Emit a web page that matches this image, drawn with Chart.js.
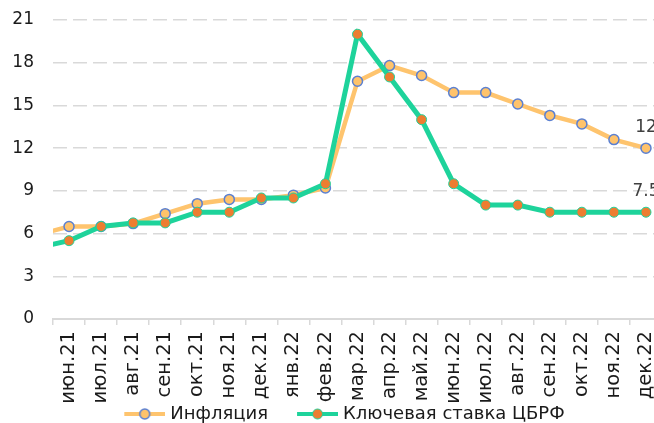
<!DOCTYPE html>
<html><head><meta charset="utf-8">
<script src="https://cdn.jsdelivr.net/npm/chart.js@4.4.0/dist/chart.umd.min.js"></script>
<style>
html,body{margin:0;padding:0;background:#fff;overflow:hidden;}
#wrap{width:654px;height:423px;overflow:hidden;position:relative;}
canvas{display:block;}
</style></head><body>
<div id="wrap"><canvas id="c" width="684" height="423"></canvas></div>
<script>
// May 2021 is the clipped lead-in point at the left edge
const categories = ['май.21','июн.21','июл.21','авг.21','сен.21','окт.21','ноя.21','дек.21','янв.22','фев.22','мар.22','апр.22','май.22','июн.22','июл.22','авг.22','сен.22','окт.22','ноя.22','дек.22'];
const inflation = [5.9, 6.5, 6.5, 6.7, 7.4, 8.1, 8.4, 8.4, 8.7, 9.2, 16.7, 17.8, 17.1, 15.9, 15.9, 15.1, 14.3, 13.7, 12.6, 12.0];
const keyRate   = [5.0, 5.5, 6.5, 6.75, 6.75, 7.5, 7.5, 8.5, 8.5, 9.5, 20, 17, 14, 9.5, 8, 8, 7.5, 7.5, 7.5, 7.5];
const yTicks = [0, 3, 6, 9, 12, 15, 18, 21];
const seriesNames = ['Инфляция', 'Ключевая ставка ЦБРФ'];

const FONT = 'DejaVu Sans';
const infLine = '#FEC46E', infPtFill = '#FFC36B', infPtBorder = '#5B80D2';
const rateLine = '#1ED39B', ratePtFill = '#ED7D31';

function legendImg(lineColor, fill, border, bw) {
  const c = document.createElement('canvas');
  c.width = 72; c.height = 14;
  const g = c.getContext('2d');
  g.strokeStyle = lineColor; g.lineWidth = 4; g.lineCap = 'butt';
  g.beginPath(); g.moveTo(31, 7); g.lineTo(72, 7); g.stroke();
  g.beginPath(); g.arc(51.5, 7, 5, 0, Math.PI * 2);
  g.fillStyle = fill; g.fill();
  g.lineWidth = bw; g.strokeStyle = border; g.stroke();
  return c;
}
const legendImgs = [legendImg(infLine, infPtFill, infPtBorder, 1.5), legendImg(rateLine, ratePtFill, rateLine, 1)];

const endLabels = {
  id: 'endLabels',
  afterDatasetsDraw(chart) {
    const ctx = chart.ctx;
    chart.data.datasets.forEach((ds, i) => {
      const meta = chart.getDatasetMeta(i);
      const last = ds.data.length - 1;
      const pt = meta.data[last];
      ctx.save();
      ctx.font = '17px "' + FONT + '"';
      ctx.fillStyle = '#404040';
      ctx.textAlign = 'center';
      ctx.textBaseline = 'middle';
      ctx.fillText(String(ds.data[last]), pt.x, pt.y - 21);
      ctx.restore();
    });
  }
};

new Chart(document.getElementById('c'), {
  type: 'line',
  data: {
    labels: categories,
    datasets: [
      { label: seriesNames[0], data: inflation, borderColor: infLine, backgroundColor: infLine, borderWidth: 4.5,
        pointRadius: 5, pointBackgroundColor: infPtFill, pointBorderColor: infPtBorder, pointBorderWidth: 1.5,
        order: 1, clip: 0 },
      { label: seriesNames[1], data: keyRate, borderColor: rateLine, backgroundColor: rateLine, borderWidth: 5,
        pointRadius: 5, pointBackgroundColor: ratePtFill, pointBorderColor: rateLine, pointBorderWidth: 1,
        order: 0, clip: 0 }
    ]
  },
  options: {
    responsive: false,
    animation: false,
    layout: { padding: { left: 0, right: 22, top: 20, bottom: -10 } },
    scales: {
      x: {
        min: 'июн.21',
        offset: true,
        grid: { display: true, drawOnChartArea: false, drawTicks: true, tickLength: 6, color: '#d9d9d9', lineWidth: 1.5, offset: true },
        border: { display: true, color: '#d9d9d9', width: 2 },
        ticks: { autoSkip: false, minRotation: 90, maxRotation: 90, padding: 6, color: '#1a1a1a', font: { family: FONT, size: 19.5 } },
        afterFit(s) { s.height = 84; }
      },
      y: {
        min: 0, max: 21,
        afterBuildTicks(s) { s.ticks = yTicks.map(v => ({ value: v })); },
        grid: { color: '#d9d9d9', lineWidth: 1.5, drawTicks: true, tickLength: 16, tickColor: 'rgba(0,0,0,0)' },
        border: { display: false, dash: [14, 6] },
        ticks: { padding: 3, color: '#1a1a1a', font: { family: FONT, size: 17 } },
        afterFit(s) { s.width = 53; }
      }
    },
    plugins: {
      tooltip: { enabled: false },
      legend: {
        position: 'bottom',
        labels: {
          usePointStyle: true,
          pointStyleWidth: 64,
          padding: 2,
          color: '#1a1a1a',
          font: { family: FONT, size: 18 },
          generateLabels(chart) {
            const items = Chart.defaults.plugins.legend.labels.generateLabels(chart);
            items.sort((a, b) => a.datasetIndex - b.datasetIndex);
            items.forEach(it => { it.pointStyle = legendImgs[it.datasetIndex]; });
            return items;
          }
        }
      }
    }
  },
  plugins: [endLabels]
});
</script>
</body></html>
